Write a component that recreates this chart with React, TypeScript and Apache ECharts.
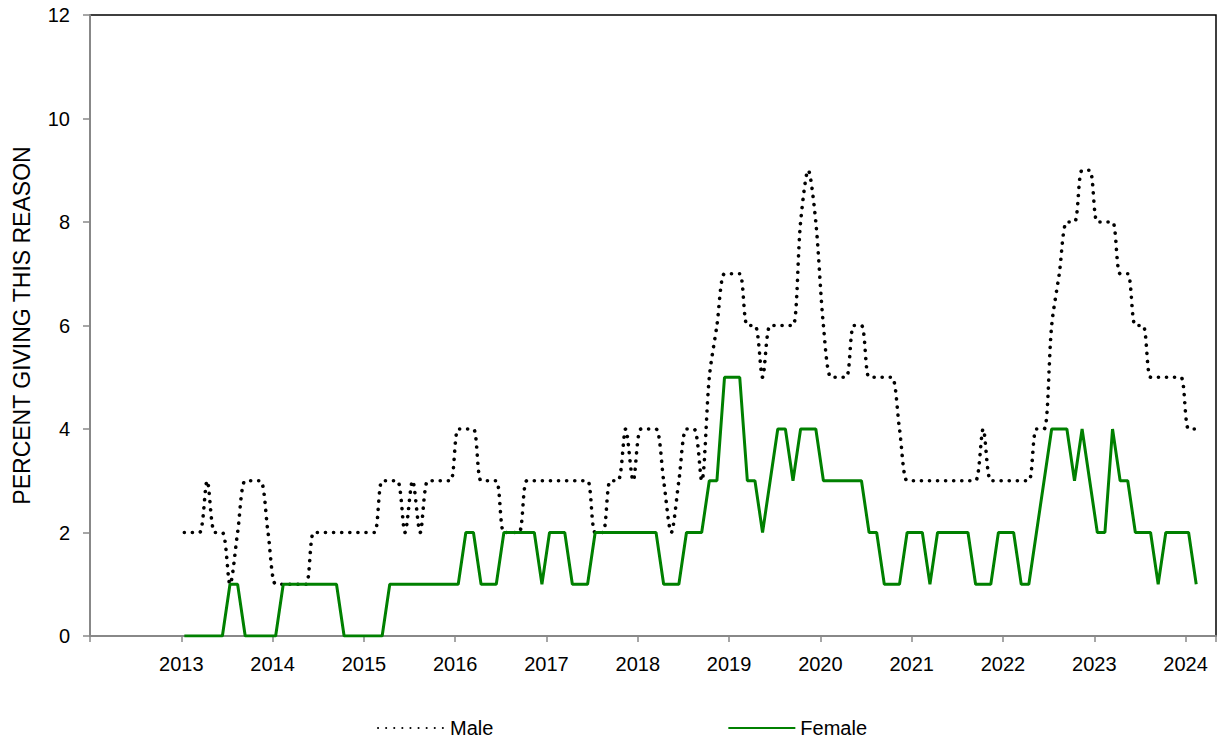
import React, { useEffect, useRef } from "react";
import * as echarts from "echarts";

// Monthly series, first point = January 2013 (month index 12 counted from Jan 2012)
const firstMonthIndex = 12;
const monthsOnAxis = 148;
const yearLabels = ["2013", "2014", "2015", "2016", "2017", "2018", "2019", "2020", "2021", "2022", "2023", "2024"];
const yTickValues = [0, 2, 4, 6, 8, 10, 12];

const maleValues = [
  // 2013
  2, 2, 2, 3, 2, 2, 1, 2, 3, 3, 3, 2,
  // 2014
  1, 1, 1, 1, 1, 2, 2, 2, 2, 2, 2, 2,
  // 2015
  2, 2, 3, 3, 3, 2, 3, 2, 3, 3, 3, 3,
  // 2016
  4, 4, 4, 3, 3, 3, 2, 2, 2, 3, 3, 3,
  // 2017
  3, 3, 3, 3, 3, 3, 2, 2, 3, 3, 4, 3,
  // 2018
  4, 4, 4, 3, 2, 3, 4, 4, 3, 5, 6, 7,
  // 2019
  7, 7, 6, 6, 5, 6, 6, 6, 6, 8, 9, 8,
  // 2020
  6, 5, 5, 5, 6, 6, 5, 5, 5, 5, 4, 3,
  // 2021
  3, 3, 3, 3, 3, 3, 3, 3, 3, 4, 3, 3,
  // 2022
  3, 3, 3, 3, 4, 4, 6, 7, 8, 8, 9, 9,
  // 2023
  8, 8, 8, 7, 7, 6, 6, 5, 5, 5, 5, 5,
  // 2024
  4, 4,
];

const femaleValues = [
  // 2013
  0, 0, 0, 0, 0, 0, 1, 1, 0, 0, 0, 0,
  // 2014
  0, 1, 1, 1, 1, 1, 1, 1, 1, 0, 0, 0,
  // 2015
  0, 0, 0, 1, 1, 1, 1, 1, 1, 1, 1, 1,
  // 2016
  1, 2, 2, 1, 1, 1, 2, 2, 2, 2, 2, 1,
  // 2017
  2, 2, 2, 1, 1, 1, 2, 2, 2, 2, 2, 2,
  // 2018
  2, 2, 2, 1, 1, 1, 2, 2, 2, 3, 3, 5,
  // 2019
  5, 5, 3, 3, 2, 3, 4, 4, 3, 4, 4, 4,
  // 2020
  3, 3, 3, 3, 3, 3, 2, 2, 1, 1, 1, 2,
  // 2021
  2, 2, 1, 2, 2, 2, 2, 2, 1, 1, 1, 2,
  // 2022
  2, 2, 1, 1, 2, 3, 4, 4, 4, 3, 4, 3,
  // 2023
  2, 2, 4, 3, 3, 2, 2, 2, 1, 2, 2, 2,
  // 2024
  2, 1,
];

const FONT = "'Liberation Sans', Arial, Helvetica, sans-serif";

export default function App() {
  const ref = useRef<HTMLDivElement>(null);

  useEffect(() => {
    if (!ref.current) return;
    const chart = echarts.init(ref.current, null, { renderer: "svg" });
    const toPairs = (vals: number[]) => vals.map((v, i) => [firstMonthIndex + i + 0.4, v]);

    chart.setOption({
      animation: false,
      backgroundColor: "#ffffff",
      grid: {
        left: 90,
        right: 9,
        top: 15,
        bottom: 104,
        show: true,
        borderColor: "#000000",
        borderWidth: 1.5,
        backgroundColor: "transparent",
      },
      legend: {
        data: ["Male", "Female"],
        left: 372,
        top: 713,
        itemWidth: 67,
        itemHeight: 14,
        itemGap: 234,
        itemStyle: { opacity: 0 },
        textStyle: { fontSize: 20, color: "#000", fontFamily: FONT },
      },
      xAxis: {
        type: "value",
        min: 0,
        max: monthsOnAxis,
        interval: 12,
        axisLine: { show: true, onZero: false, lineStyle: { color: "#888888", width: 2 } },
        axisTick: { show: true, length: 6, lineStyle: { color: "#888888", width: 1.5 } },
        axisLabel: {
          fontSize: 20,
          color: "#000",
          fontFamily: FONT,
          margin: 18,
          formatter: (v: number) => {
            if (v % 12 !== 0) return "";
            const idx = v / 12 - 1;
            return idx >= 0 && idx < yearLabels.length ? yearLabels[idx] : "";
          },
        },
        splitLine: { show: false },
      },
      yAxis: {
        type: "value",
        min: yTickValues[0],
        max: yTickValues[yTickValues.length - 1],
        interval: 2,
        name: "PERCENT GIVING THIS REASON",
        nameLocation: "middle",
        nameGap: 57,
        nameTextStyle: { fontSize: 23, color: "#000", fontFamily: FONT },
        axisLine: { show: true, lineStyle: { color: "#888888", width: 2 } },
        axisTick: { show: true, length: 7, lineStyle: { color: "#888888", width: 1.5 } },
        axisLabel: { fontSize: 20, color: "#000", fontFamily: FONT, margin: 20 },
        splitLine: { show: false },
      },
      series: [
        {
          name: "Male",
          type: "line",
          data: toPairs(maleValues),
          symbol: "none",
          smooth: 0.3,
          lineStyle: { color: "#000000", width: 3.6, type: [0.1, 8], cap: "round" },
          itemStyle: { color: "#000000" },
        },
        {
          name: "Female",
          type: "line",
          data: toPairs(femaleValues),
          symbol: "none",
          lineStyle: { color: "#008000", width: 3 },
          itemStyle: { color: "#008000" },
        },
      ],
    });

    return () => chart.dispose();
  }, []);

  return (
    <div
      ref={ref}
      style={{ position: "absolute", left: 0, top: 0, width: 1225, height: 740 }}
    />
  );
}
